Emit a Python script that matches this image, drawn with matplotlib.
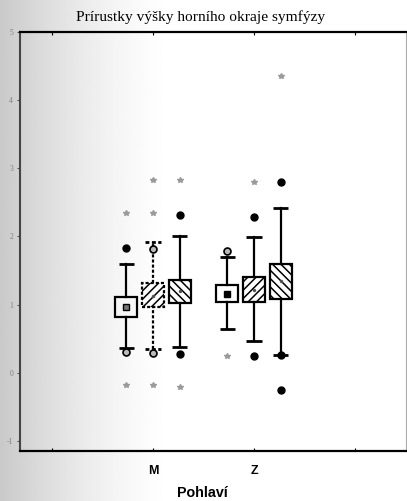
import numpy as np
import matplotlib
matplotlib.use("Agg")
import matplotlib.pyplot as plt
from matplotlib.patches import Rectangle

# ---- data ---------------------------------------------------------------
groups = ["M", "Z"]
# three series per group (order: M1, M2, M3, Z1, Z2, Z3)
box_low = [0.82, 0.97, 1.02, 1.04, 1.04, 1.08]
box_high = [1.11, 1.32, 1.36, 1.29, 1.41, 1.60]
means = [0.97, 1.13, 1.20, 1.16, 1.22, 1.35]
whisker_low = [0.36, 0.34, 0.38, 0.64, 0.47, 0.26]
whisker_high = [1.60, 1.92, 2.01, 1.70, 1.99, 2.42]
outliers_filled = [[1.83], [], [2.32, 0.28], [], [2.29, 0.25], [2.80, 0.26, -0.25]]
outliers_open = [[0.31], [1.82, 0.29], [], [1.79], [], []]
extremes = [[2.34, -0.18], [2.83, 2.34, -0.18], [2.83, -0.21], [0.25], [2.80], [4.35]]

y_ticks = [-1, 0, 1, 2, 3, 4, 5]
title = "Prírustky výšky horního okraje symfýzy"
x_title = "Pohlaví"

# ---- figure -------------------------------------------------------------
W, H = 407, 501
fig = plt.figure(figsize=(W / 100, H / 100), dpi=100)
plt.rcParams["hatch.linewidth"] = 1.1

# scanner shading on the left side of the page
bg = fig.add_axes([0, 0, 1, 1], zorder=-10)
xs = np.linspace(0, 1, 400)
shade = np.clip(xs * W / 175.0, 0, 1)
level = 0.79 + 0.21 * (1 - (1 - shade) ** 1.5)
bg.imshow(np.tile(level, (10, 1)), aspect="auto", extent=[0, 1, 0, 1],
          cmap="gray", vmin=0, vmax=1, interpolation="bilinear")
bg.set_xlim(0, 1)
bg.set_ylim(0, 1)
bg.axis("off")

left, right = 20 / W, 406 / W
top, bottom = 1 - 32 / H, 1 - 451 / H
ax = fig.add_axes([left, bottom, right - left, top - bottom])
ax.patch.set_alpha(0)

ax.set_xlim(-0.317, 3.505)
ax.set_ylim(-1.15, 5.0)

offsets = [-0.265, 0.0, 0.265]
box_w = 0.22
cap_w = 0.15
hatches = [None, "////", "\\\\\\\\"]

for gi, g in enumerate(groups):
    for si in range(3):
        k = gi * 3 + si
        x = gi + 1 + offsets[si]
        dotted = (gi == 0 and si == 1)
        ls = (0, (1.4, 0.9)) if dotted else "-"
        lw = 1.6
        # whiskers
        ax.plot([x, x], [whisker_low[k], box_low[k]], color="black", lw=lw, ls=ls, zorder=2)
        ax.plot([x, x], [box_high[k], whisker_high[k]], color="black", lw=lw, ls=ls, zorder=2)
        for yv in (whisker_low[k], whisker_high[k]):
            ax.plot([x - cap_w / 2, x + cap_w / 2], [yv, yv], color="black",
                    lw=2.0, ls=ls, solid_capstyle="butt", zorder=2)
        # box
        rect = Rectangle((x - box_w / 2, box_low[k]), box_w, box_high[k] - box_low[k],
                         facecolor="none", edgecolor="black", lw=lw, ls=ls,
                         hatch=hatches[si], zorder=3)
        ax.add_patch(rect)
        # mean marker
        if si == 0:
            fc = "#777777" if gi == 0 else "black"
            ax.plot(x, means[k], marker="s", ms=5, mfc=fc, mec="black", mew=1.0, zorder=4)
        else:
            ax.plot(x, means[k], marker="o", ms=2.5, mfc="#555555", mec="none", zorder=4)
        # outliers
        if outliers_filled[k]:
            ax.plot([x] * len(outliers_filled[k]), outliers_filled[k], ls="none",
                    marker="o", ms=5, mfc="black", mec="black", zorder=5)
        if outliers_open[k]:
            ax.plot([x] * len(outliers_open[k]), outliers_open[k], ls="none",
                    marker="o", ms=5, mfc="#bbbbbb", mec="black", mew=1.2, zorder=5)
        # extremes
        if extremes[k]:
            ax.plot([x] * len(extremes[k]), extremes[k], ls="none",
                    marker="*", ms=4, mfc="#9a9a9a", mec="#9a9a9a", zorder=5)

# ---- axes styling -------------------------------------------------------
ax.spines["left"].set_color("#444444")
ax.spines["left"].set_linewidth(1.5)
ax.spines["top"].set_linewidth(1.6)
ax.spines["bottom"].set_linewidth(1.6)
ax.spines["right"].set_color("#aaaaaa")
ax.spines["right"].set_linewidth(0.8)

ax.set_yticks(y_ticks)
ax.set_yticklabels([str(v) for v in y_ticks], fontsize=5.5, color="#808080",
                   family="Liberation Serif")
ax.tick_params(axis="y", length=2, width=0.8, color="#555555", pad=3,
               right=True, direction="out")

ax.set_xticks([0, 1, 2, 3])
ax.set_xticklabels(["", groups[0], groups[1], ""], fontsize=9, fontweight="bold",
                   family="Liberation Sans")
ax.tick_params(axis="x", length=2, width=0.8, direction="in", top=True, pad=10)

fig.text(201 / W, 1 - 17 / H, title, ha="center", va="center",
         fontsize=11.1, family="Liberation Serif")
fig.text(202 / W, 1 - 493 / H, x_title, ha="center", va="center",
         fontsize=10.3, fontweight="bold", family="Liberation Sans")

fig.savefig("out.png", dpi=100)
